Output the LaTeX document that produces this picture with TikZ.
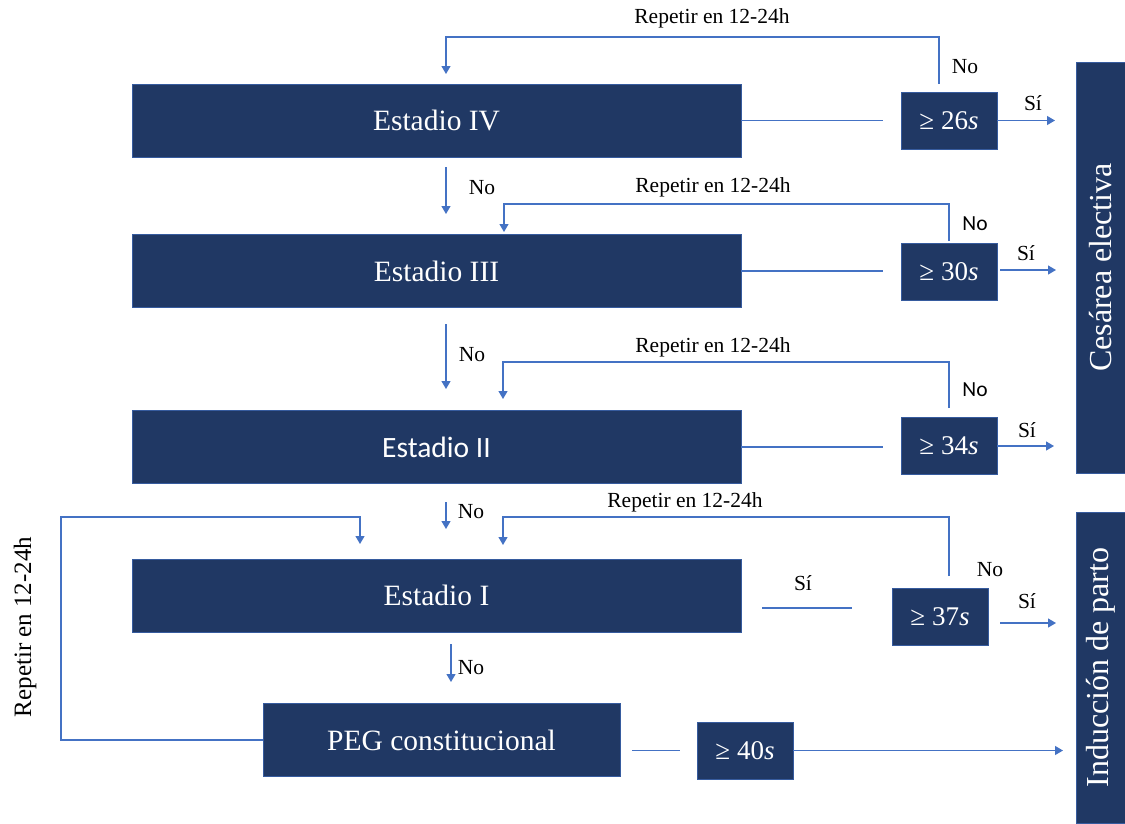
\documentclass[tikz,border=0pt]{standalone}
\usepackage{fontspec}
\setmainfont{Liberation Serif}
\newfontfamily\calibri{Carlito}
\usetikzlibrary{arrows.meta}
\definecolor{navy}{HTML}{203864}
\definecolor{flow}{HTML}{4472C4}

\begin{document}
\begin{tikzpicture}
          [x=1pt,y=-1pt,
           stage/.style={draw=flow!60!navy, line width=0.8pt, fill=navy, text=white, inner sep=0pt,
                         minimum width=609pt, minimum height=73pt, font=\fontsize{29.5}{32}\selectfont},
           test/.style={stage, minimum width=96pt, minimum height=57pt, font=\fontsize{27}{30}\selectfont},
           outcome/.style={stage, minimum height=49pt, rotate=90, font=\fontsize{32}{36}\selectfont},
           lbl/.style={inner sep=0pt, font=\fontsize{21.5}{24}\selectfont},
           link/.style={draw=flow, line width=1.2pt},
           go/.style={link, -{Triangle[length=8pt,width=9pt]}}]
        \useasboundingbox (0,0) rectangle (1125,823);

        % stages
        \node[stage] (s4) at (436.5,120.5) {Estadio IV};
        \node[stage] (s3) at (436.5,271) {Estadio III};
        \node[stage, font=\calibri\fontsize{29.5}{32}\selectfont] (s2) at (436.5,447) {Estadio II};
        \node[stage] (s1) at (436.5,595.5) {Estadio I};
        \node[stage, minimum width=357pt] (peg) at (441.5,740) {PEG constitucional};

        % tests
        \node[test] (t26) at (949,120.5) {≥ 26\textit{s}};
        \node[test] (t30) at (949,272) {≥ 30\textit{s}};
        \node[test] (t34) at (949,446) {≥ 34\textit{s}};
        \node[test] (t37) at (940,616.5) {≥ 37\textit{s}};
        \node[test] (t40) at (745,750.5) {≥ 40\textit{s}};

        % outcomes
        \node[outcome, minimum width=411pt] (ces) at (1100.5,267.5) {Cesárea electiva};
        \node[outcome, minimum width=311pt] (ind) at (1101,667.5) {Inducción de parto};

        % free ends
        \coordinate (g4) at (883,120.5);
        \coordinate (g3) at (883,271);
        \coordinate (g2) at (883,447);
        \coordinate (g1a) at (762,608);
        \coordinate (g1b) at (852,608);
        \coordinate (gpa) at (632,750.5);
        \coordinate (gpb) at (680,750.5);
        \coordinate (y26) at (1055,120.5);
        \coordinate (y30a) at (1000,270);
        \coordinate (y30) at (1056,270);
        \coordinate (y34) at (1054,446);
        \coordinate (y37a) at (1000,623);
        \coordinate (y37) at (1056,623);
        \coordinate (y40) at (1063,750.5);
        \coordinate (d4a) at (446,167);
        \coordinate (d4b) at (446,214);
        \coordinate (d3a) at (446,324);
        \coordinate (d3b) at (446,389);
        \coordinate (d2a) at (446,502);
        \coordinate (d2b) at (446,529);
        \coordinate (d1a) at (451,644);
        \coordinate (d1b) at (451,682);

        \foreach \from/\to in {s4.east/g4, s3.east/g3, s2.east/g2, g1a/g1b, gpa/gpb}
          \draw[link] (\from) -- (\to);

        \foreach \from/\to in {t26.east/y26, y30a/y30, t34.east/y34, y37a/y37, t40.east/y40,
                               d4a/d4b, d3a/d3b, d2a/d2b, d1a/d1b}
          \draw[go] (\from) -- (\to);

        % repeat loops
        \draw[go] (939,84) |- (446,37) -- (446,74);
        \draw[go] (949,241) |- (504,204) -- (504,232);
        \draw[go] (949,408) |- (503,362) -- (503,399);
        \draw[go] (949,576) |- (503,517) -- (503,545);
        \draw[go] (peg.west) -| (61,517) -| (360,544);

        % labels
        \node[lbl] (rep4) at (712,18) {Repetir en 12-24h};
        \node[lbl] (rep3) at (713,187) {Repetir en 12-24h};
        \node[lbl] (rep2) at (713,347) {Repetir en 12-24h};
        \node[lbl] (rep1) at (685,502) {Repetir en 12-24h};
        \node[lbl, rotate=90, font=\fontsize{25}{27}\selectfont] (repl) at (25,627) {Repetir en 12-24h};

        \node[lbl] (no26) at (965,67) {No};
        \node[lbl, font=\calibri\fontsize{21.5}{24}\selectfont] (no30) at (975,224) {No};
        \node[lbl, font=\calibri\fontsize{21.5}{24}\selectfont] (no34) at (975,390) {No};
        \node[lbl] (no37) at (990,570) {No};
        \node[lbl] (no4) at (482,188) {No};
        \node[lbl] (no3) at (472,355) {No};
        \node[lbl] (no2) at (471,512) {No};
        \node[lbl] (no1) at (471,668) {No};

        \node[lbl] (si26) at (1033,103) {Sí};
        \node[lbl] (si30) at (1026,253) {Sí};
        \node[lbl] (si34) at (1027,430) {Sí};
        \node[lbl] (si37) at (1027,601) {Sí};
        \node[lbl] (si1) at (803,583) {Sí};
      \end{tikzpicture}
\end{document}
